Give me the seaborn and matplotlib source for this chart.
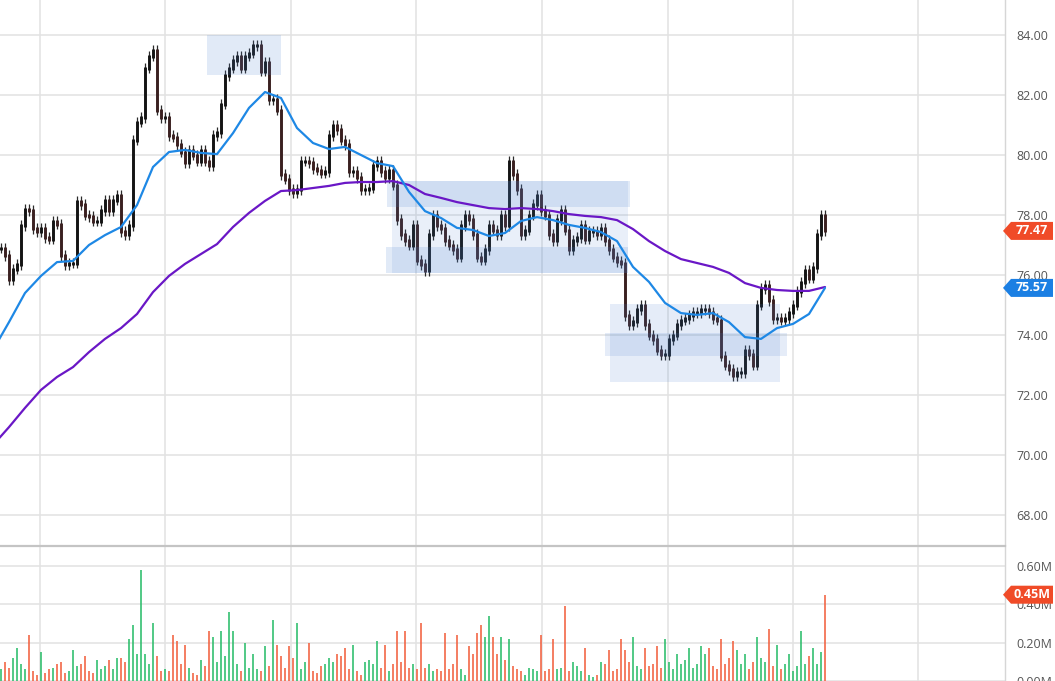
import numpy as np
import matplotlib
matplotlib.use("Agg")
import matplotlib.pyplot as plt
from matplotlib.patches import Rectangle, Polygon
from matplotlib.ticker import FuncFormatter
import seaborn as sns

# closing prices, one per bar
close = [
    76.9, 76.65, 75.85, 76.2, 76.35, 77.65, 78.2, 78.15, 77.55, 77.45,
    77.55, 77.25, 77.2, 77.8, 77.7, 76.65, 76.35, 76.4, 76.4, 78.45,
    78.35, 78.0, 77.95, 77.8, 77.8, 78.15, 78.5, 78.15, 78.5, 78.65,
    77.45, 77.35, 77.65, 80.5, 81.1, 81.25, 82.9, 83.3, 83.5, 81.5,
    81.25, 81.25, 80.65, 80.6, 80.35, 80.1, 79.75, 80.15, 80.0, 79.8,
    80.15, 79.8, 79.65, 80.65, 80.75, 81.7, 82.65, 82.9, 83.15, 83.3,
    82.9, 83.3, 83.4, 83.65, 83.65, 82.8, 83.1, 81.85, 81.85, 81.5,
    79.35, 79.2, 78.85, 78.75, 78.85, 79.8, 79.8, 79.75, 79.55, 79.5,
    79.4, 79.45, 80.65, 81.0, 80.85, 80.5, 80.35, 79.45, 79.45, 79.25,
    78.85, 78.85, 78.9, 79.65, 79.8, 79.45, 79.25, 79.5, 79.0, 77.85,
    77.35, 77.15, 77.0, 77.65, 76.5, 76.35, 76.15, 77.35, 78.0, 77.65,
    77.55, 77.15, 77.0, 76.85, 76.6, 77.65, 78.0, 77.85, 77.35, 76.6,
    76.5, 76.85, 77.65, 77.5, 77.35, 78.0, 77.65, 79.8, 79.35, 78.85,
    77.35, 77.5, 78.0, 78.35, 78.65, 78.15, 78.0, 77.35, 77.15, 77.85,
    78.15, 77.5, 76.85, 77.15, 77.25, 77.65, 77.2, 77.45, 77.45, 77.35,
    77.55, 77.15, 76.85, 76.6, 76.45, 76.4, 74.65, 74.35, 74.45, 74.85,
    75.0, 74.35, 74.0, 73.85, 73.5, 73.35, 73.35, 73.85, 74.0, 74.35,
    74.5, 74.55, 74.65, 74.75, 74.75, 74.85, 74.85, 74.75, 74.55, 74.5,
    73.3, 73.0, 72.85, 72.65, 72.75, 72.75, 73.5, 73.35, 73.0, 75.0,
    75.55, 75.65, 75.15, 74.55, 74.55, 74.5, 74.55, 74.75, 75.0, 75.45,
    75.75, 76.15, 75.9, 76.25, 77.35, 78.0, 77.47,
]

# volume in millions, one per bar
volume = [
    0.06, 0.10, 0.07, 0.12, 0.17, 0.09, 0.06, 0.24, 0.05, 0.03,
    0.15, 0.04, 0.06, 0.07, 0.09, 0.10, 0.04, 0.05, 0.16, 0.08,
    0.09, 0.13, 0.05, 0.04, 0.11, 0.06, 0.08, 0.11, 0.06, 0.12,
    0.12, 0.10, 0.22, 0.29, 0.14, 0.58, 0.14, 0.09, 0.30, 0.13,
    0.05, 0.06, 0.05, 0.24, 0.21, 0.09, 0.19, 0.07, 0.04, 0.03,
    0.11, 0.08, 0.26, 0.23, 0.10, 0.26, 0.13, 0.36, 0.26, 0.09,
    0.05, 0.20, 0.07, 0.14, 0.06, 0.05, 0.18, 0.08, 0.32, 0.19,
    0.13, 0.07, 0.18, 0.12, 0.30, 0.06, 0.10, 0.20, 0.05, 0.04,
    0.08, 0.09, 0.12, 0.10, 0.14, 0.13, 0.17, 0.06, 0.19, 0.05,
    0.03, 0.10, 0.11, 0.09, 0.21, 0.07, 0.19, 0.05, 0.09, 0.26,
    0.10, 0.26, 0.07, 0.09, 0.06, 0.30, 0.07, 0.09, 0.05, 0.06,
    0.05, 0.25, 0.06, 0.09, 0.24, 0.06, 0.03, 0.18, 0.14, 0.25,
    0.29, 0.23, 0.34, 0.23, 0.14, 0.23, 0.11, 0.22, 0.08, 0.06,
    0.05, 0.03, 0.07, 0.06, 0.05, 0.24, 0.05, 0.06, 0.22, 0.06,
    0.07, 0.39, 0.05, 0.10, 0.08, 0.05, 0.17, 0.03, 0.02, 0.03,
    0.10, 0.09, 0.16, 0.05, 0.06, 0.22, 0.16, 0.10, 0.23, 0.08,
    0.06, 0.17, 0.08, 0.09, 0.18, 0.07, 0.22, 0.10, 0.06, 0.14,
    0.09, 0.11, 0.17, 0.07, 0.09, 0.18, 0.14, 0.17, 0.08, 0.06,
    0.22, 0.09, 0.12, 0.21, 0.16, 0.09, 0.14, 0.06, 0.10, 0.23,
    0.12, 0.10, 0.27, 0.08, 0.19, 0.06, 0.09, 0.14, 0.05, 0.08,
    0.26, 0.09, 0.13, 0.17, 0.09, 0.15, 0.45,
]

# moving averages, sampled every 4 bars starting at bar -2
ma_start, ma_step = -2, 4
ma_fast = [
    73.5, 74.43, 75.4, 75.97, 76.43, 76.47, 77.0, 77.33, 77.6, 78.33,
    79.6, 80.1, 80.17, 80.07, 80.03, 80.73, 81.57, 82.1, 81.9, 80.9,
    80.4, 80.2, 80.27, 80.0, 79.73, 79.63, 78.77, 78.13, 77.9, 77.57,
    77.5, 77.3, 77.4, 77.8, 77.93, 77.83, 77.67, 77.57, 77.43, 77.13,
    76.27, 75.77, 75.07, 74.73, 74.67, 74.73, 74.43, 73.93, 73.87, 74.23,
    74.37, 74.7, 75.57,
]
ma_slow = [
    70.33, 70.93, 71.57, 72.17, 72.6, 72.93, 73.43, 73.87, 74.23, 74.7,
    75.43, 75.97, 76.37, 76.7, 77.03, 77.6, 78.07, 78.47, 78.8, 78.83,
    78.9, 78.97, 79.07, 79.1, 79.1, 79.13, 79.0, 78.7, 78.57, 78.43,
    78.33, 78.23, 78.2, 78.23, 78.2, 78.13, 78.03, 77.97, 77.93, 77.83,
    77.53, 77.13, 76.8, 76.53, 76.4, 76.27, 76.07, 75.73, 75.57, 75.5,
    75.47, 75.47, 75.6,
]

# consolidation zones: (first bar, last bar, low, high, strength)
zones = [
    (51.5, 70.0, 82.67, 84.0, 0.16),
    (97.75, 156.75, 76.07, 79.13, 0.12),
    (96.5, 157.25, 78.27, 79.13, 0.16),
    (96.25, 156.75, 76.07, 76.93, 0.16),
    (152.25, 194.75, 72.43, 75.03, 0.14),
    (151.0, 196.5, 73.3, 74.07, 0.14),
]

# date separators (bar positions)
day_breaks = [9.75, 41.0, 72.5, 103.75, 135.25, 166.75, 198.0, 229.25]

sns.set_theme(style="white")
plt.rcParams["font.family"] = ["Open Sans", "DejaVu Sans"]

close = np.array(close)
volume = np.array(volume)
idx = np.arange(len(close))
opens = np.r_[close[0], close[:-1]]
up = close >= opens

W, H = 1055, 681
fig = plt.figure(figsize=(W / 100, H / 100), dpi=100)
ax = fig.add_axes([0, 1 - 545 / H, 1005 / W, 545 / H])
axv = fig.add_axes([0, 0, 1005 / W, 135 / H], sharex=ax)

# candles: thin wick plus body from previous close to close
lo = np.minimum(opens, close)
hi = np.maximum(opens, close)
ax.vlines(idx, lo - 0.18, hi + 0.18, color="#2a2a2a", lw=0.9, zorder=2)
ax.vlines(idx[up], lo[up] - 0.05, hi[up] + 0.05, color="#141414", lw=2.1, zorder=2)
ax.vlines(idx[~up], lo[~up] - 0.05, hi[~up] + 0.05, color="#3a2020", lw=2.1, zorder=2)

for x0, x1, y0, y1, a in zones:
    ax.add_patch(Rectangle((x0, y0), x1 - x0, y1 - y0, facecolor="#4a7fd0",
                           alpha=a, edgecolor="none", zorder=3))

ma_x = ma_start + ma_step * np.arange(len(ma_fast))
sns.lineplot(x=ma_x, y=ma_slow, ax=ax, color="#6a17c6", lw=1.6, zorder=4)
sns.lineplot(x=ma_x, y=ma_fast, ax=ax, color="#1e88e5", lw=1.6, zorder=5)

# volume bars
vcol = np.where(up, "#2bbd6a", "#f2603f")
axv.bar(idx, volume, width=0.55, color=vcol, alpha=0.8, lw=0, zorder=2)

ax.set_xlim(-0.25, (1005 - 1) / 4)
ax.set_ylim(67.0, 85.167)
axv.set_ylim(0, 0.704)

for a in (ax, axv):
    a.set_xticks(day_breaks)
    a.grid(True, color="#e2e2e2", lw=1.1)
    a.set_axisbelow(True)
    a.tick_params(axis="x", length=0, labelbottom=False)
    a.yaxis.tick_right()
    a.tick_params(axis="y", length=0, pad=8, labelsize=9, labelcolor="#555555")
    for s in ("left", "top", "bottom"):
        a.spines[s].set_visible(False)
    a.spines["right"].set_color("#d6d6d6")
    a.spines["right"].set_linewidth(1)
    a.set_xlabel("")
    a.set_ylabel("")

axv.spines["top"].set_visible(True)
axv.spines["top"].set_color("#c4c4c4")
axv.spines["top"].set_linewidth(1.6)

ax.set_yticks(np.arange(68, 85, 2))
ax.yaxis.set_major_formatter(FuncFormatter(lambda v, p: f"{v:.2f}"))
axv.set_yticks([0, 0.2, 0.4, 0.6])
axv.yaxis.set_major_formatter(FuncFormatter(lambda v, p: f"{v:.2f}M"))


def tag(axis, value, text, color):
    fig.canvas.draw()
    yc = axis.transData.transform((0, value))[1]
    pts = [(1003, yc), (1011, yc + 9), (1053, yc + 9), (1053, yc - 9), (1011, yc - 9)]
    pts = [(x / W, y / H) for x, y in pts]
    fig.add_artist(Polygon(pts, closed=True, facecolor=color, edgecolor="none",
                           transform=fig.transFigure, zorder=10))
    fig.text(1032 / W, yc / H, text, color="white", fontsize=9, fontweight="bold",
             ha="center", va="center", zorder=11)


tag(ax, close[-1], f"{close[-1]:.2f}", "#f04b28")
tag(ax, ma_fast[-1], f"{ma_fast[-1]:.2f}", "#1b7fe3")
tag(axv, volume[-1], f"{volume[-1]:.2f}M", "#f04b28")

fig.savefig("out.png", dpi=100)
